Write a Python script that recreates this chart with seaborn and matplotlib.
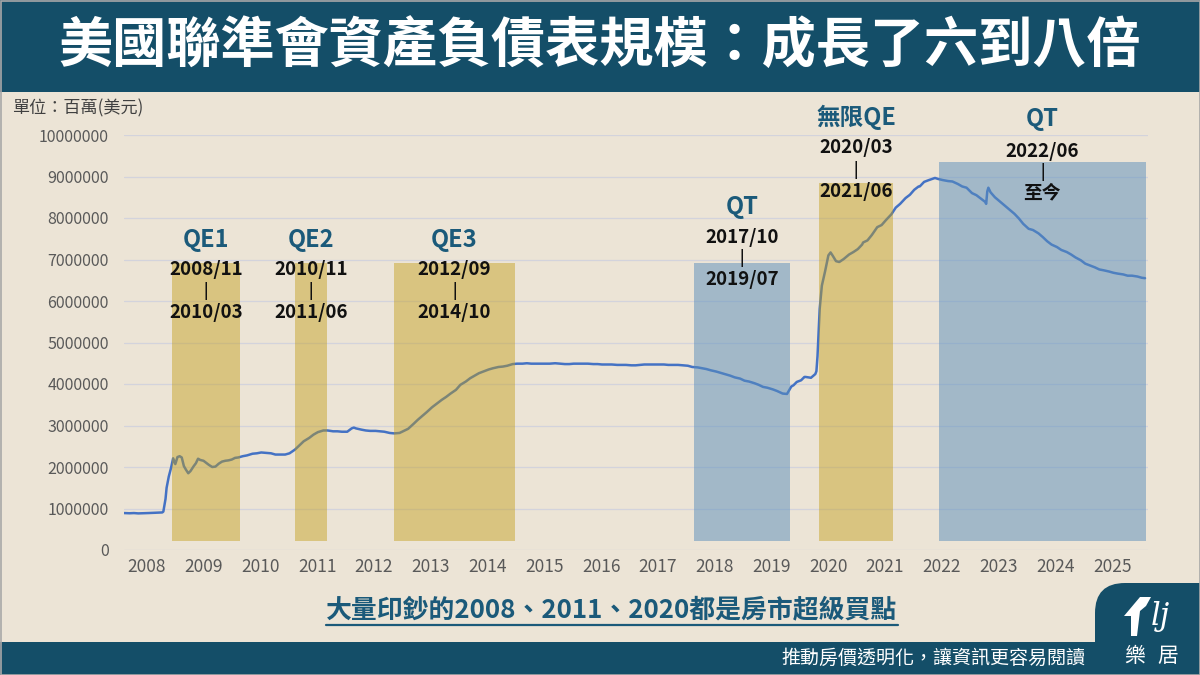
import numpy as np
import pandas as pd
import matplotlib
matplotlib.use("Agg")
import matplotlib.pyplot as plt
import seaborn as sns
from matplotlib.patches import Rectangle, FancyBboxPatch, Polygon

# ---------------- data ----------------
# Fed total assets, billions USD (converted to millions for the axis)
dates = [
    "2008-01-02", "2008-02-06", "2008-03-05", "2008-04-02", "2008-05-07", "2008-06-04", "2008-07-02",
    "2008-08-06", "2008-09-03", "2008-09-10", "2008-09-17", "2008-09-24", "2008-10-01", "2008-10-15",
    "2008-10-29", "2008-11-12", "2008-11-26", "2008-12-10", "2008-12-24",
    "2009-01-07", "2009-01-21", "2009-02-04", "2009-02-18", "2009-03-04", "2009-03-25", "2009-04-08",
    "2009-04-22", "2009-05-06", "2009-05-27", "2009-06-17", "2009-07-01", "2009-07-22", "2009-08-12",
    "2009-09-02", "2009-09-23", "2009-10-14", "2009-11-04", "2009-11-25", "2009-12-16",
    "2010-01-06", "2010-02-03", "2010-03-03", "2010-04-07", "2010-05-05", "2010-06-02", "2010-07-07",
    "2010-08-04", "2010-09-01", "2010-10-06", "2010-11-03", "2010-12-01",
    "2011-01-05", "2011-02-02", "2011-03-02", "2011-04-06", "2011-05-04", "2011-06-01", "2011-07-06",
    "2011-08-03", "2011-09-07", "2011-10-05", "2011-11-02", "2011-12-07",
    "2012-01-04", "2012-01-18", "2012-02-01", "2012-03-07", "2012-04-04", "2012-05-02", "2012-06-06",
    "2012-07-04", "2012-08-01", "2012-09-05", "2012-10-03", "2012-11-07", "2012-12-05",
    "2013-01-02", "2013-02-06", "2013-03-06", "2013-04-03", "2013-05-01", "2013-06-05", "2013-07-03",
    "2013-08-07", "2013-09-04", "2013-10-02", "2013-11-06", "2013-12-04",
    "2014-01-08", "2014-02-05", "2014-03-05", "2014-04-02", "2014-05-07", "2014-06-04", "2014-07-02",
    "2014-08-06", "2014-09-03", "2014-10-01", "2014-11-05", "2014-12-03",
    "2015-01-07", "2015-02-04", "2015-03-04", "2015-04-01", "2015-05-06", "2015-06-03", "2015-07-01",
    "2015-08-05", "2015-09-02", "2015-10-07", "2015-11-04", "2015-12-02",
    "2016-01-06", "2016-02-03", "2016-03-02", "2016-04-06", "2016-05-04", "2016-06-01", "2016-07-06",
    "2016-08-03", "2016-09-07", "2016-10-05", "2016-11-02", "2016-12-07",
    "2017-01-04", "2017-02-01", "2017-03-01", "2017-04-05", "2017-05-03", "2017-06-07", "2017-07-05",
    "2017-08-02", "2017-09-06", "2017-10-04", "2017-11-01", "2017-12-06",
    "2018-01-03", "2018-02-07", "2018-03-07", "2018-04-04", "2018-05-02", "2018-06-06", "2018-07-04",
    "2018-08-01", "2018-09-05", "2018-10-03", "2018-11-07", "2018-12-05",
    "2019-01-02", "2019-02-06", "2019-03-06", "2019-04-03", "2019-05-01", "2019-06-05", "2019-07-03",
    "2019-08-07", "2019-09-04", "2019-09-18", "2019-10-02", "2019-10-16", "2019-11-06", "2019-12-04",
    "2019-12-25",
    "2020-01-01", "2020-02-05", "2020-03-04", "2020-03-11", "2020-03-18", "2020-03-25", "2020-04-01",
    "2020-04-15", "2020-05-06", "2020-05-27", "2020-06-10", "2020-06-24", "2020-07-15", "2020-08-05",
    "2020-09-02", "2020-10-07", "2020-11-04", "2020-12-02", "2020-12-30",
    "2021-01-06", "2021-02-03", "2021-03-03", "2021-04-07", "2021-05-05", "2021-06-02", "2021-07-07",
    "2021-08-04", "2021-09-01", "2021-10-06", "2021-11-03", "2021-12-01", "2021-12-29",
    "2022-01-05", "2022-02-02", "2022-03-02", "2022-04-13", "2022-05-04", "2022-06-01", "2022-07-06",
    "2022-08-03", "2022-09-07", "2022-10-05", "2022-11-02", "2022-12-07",
    "2023-01-04", "2023-02-01", "2023-03-01", "2023-03-08", "2023-03-15", "2023-03-22", "2023-04-05",
    "2023-05-03", "2023-06-07", "2023-07-05", "2023-08-02", "2023-09-06", "2023-10-04", "2023-11-01",
    "2023-12-06",
    "2024-01-03", "2024-02-07", "2024-03-06", "2024-04-03", "2024-05-01", "2024-06-05", "2024-07-03",
    "2024-08-07", "2024-09-04", "2024-10-02", "2024-11-06", "2024-12-04",
    "2025-01-08", "2025-02-05", "2025-03-05", "2025-04-02", "2025-05-07", "2025-06-04", "2025-07-02",
    "2025-08-06", "2025-09-03", "2025-10-01", "2025-11-05", "2025-12-03", "2025-12-24",
]
balance_bn = [
    890, 885, 890, 882, 885, 890, 895,
    900, 905, 925, 1070, 1230, 1500, 1770,
    1970, 2210, 2070, 2240, 2260,
    2230, 2020, 1930, 1850, 1900, 2020, 2090,
    2200, 2170, 2150, 2090, 2050, 2000, 2010,
    2080, 2130, 2150, 2160, 2180, 2220,
    2230, 2260, 2280, 2320, 2330, 2350, 2340,
    2330, 2300, 2300, 2300, 2330,
    2420, 2520, 2620, 2700, 2780, 2840, 2880,
    2880, 2860, 2860, 2850, 2850,
    2930, 2950, 2930, 2900, 2880, 2870, 2870,
    2860, 2850, 2820, 2810, 2820, 2870,
    2920, 3040, 3140, 3230, 3320, 3440, 3520,
    3620, 3690, 3770, 3860, 3980,
    4060, 4140, 4200, 4260, 4310, 4350, 4380,
    4410, 4420, 4440, 4480, 4490,
    4490, 4500, 4490, 4490, 4490, 4490, 4490,
    4500, 4490, 4480, 4480, 4490,
    4490, 4490, 4490, 4480, 4480, 4470, 4470,
    4470, 4460, 4460, 4460, 4450,
    4450, 4460, 4470, 4470, 4470, 4470, 4470,
    4460, 4460, 4460, 4450, 4440,
    4410, 4400, 4380, 4360, 4330, 4300, 4270,
    4240, 4200, 4160, 4130, 4080,
    4060, 4020, 3980, 3930, 3910, 3870, 3830,
    3770, 3760, 3850, 3940, 3970, 4050, 4090,
    4170,
    4170, 4150, 4240, 4310, 4670, 5250, 5810,
    6370, 6720, 7100, 7170, 7090, 6960, 6940,
    7010, 7120, 7180, 7250, 7360,
    7410, 7460, 7590, 7780, 7830, 7950, 8090,
    8250, 8340, 8480, 8560, 8680, 8760,
    8760, 8870, 8910, 8965, 8940, 8915, 8890,
    8880, 8820, 8760, 8730, 8600,
    8550, 8470, 8390, 8340, 8640, 8730, 8620,
    8500, 8390, 8300, 8210, 8100, 7990, 7860,
    7740,
    7710, 7630, 7540, 7440, 7360, 7300, 7230,
    7180, 7120, 7050, 6980, 6900,
    6850, 6810, 6760, 6740, 6710, 6680, 6660,
    6640, 6610, 6610, 6590, 6560, 6550,
]

# policy periods
period_names = ["QE1", "QE2", "QE3", "QT", "無限QE", "QT"]
period_kind = ["qe", "qe", "qe", "qt", "qe", "qt"]
period_from = ["2008/11", "2010/11", "2012/09", "2017/10", "2020/03", "2022/06"]
period_to = ["2010/03", "2011/06", "2014/10", "2019/07", "2021/06", "至今"]
period_start = [2008.845, 2011.01, 2012.75, 2018.04, 2020.24, 2022.35]
period_end = [2010.04, 2011.57, 2014.88, 2019.73, 2021.54, 2025.99]
period_top = [6920000, 6920000, 6920000, 6920000, 8840000, 9350000]
period_bottom = 220000

years = list(range(2008, 2026))
yticks = list(range(0, 10000001, 1000000))

# label layout (value units)
lab_title_y = [7470000, 7470000, 7470000, 8270000, 10430000, 10390000]
lab_from_y = [6750000, 6750000, 6750000, 7520000, 9690000, 9610000]
lab_bar_y = [6240000, 6240000, 6240000, 7040000, 9160000, 9110000]
lab_to_y = [5730000, 5730000, 5730000, 6510000, 8650000, 8600000]

# ---------------- style ----------------
sns.set_theme(style="white")
plt.rcParams["font.family"] = ["Noto Sans CJK TC", "DejaVu Sans"]

BG = "#ece4d6"
DARK = "#144e68"
TEAL = "#1b5a7a"
LINE = "#4472c4"
GOLD = (194 / 255, 157 / 255, 25 / 255)
BLUE = (90 / 255, 142 / 255, 188 / 255)

W, H = 1200, 675
fig = plt.figure(figsize=(12, 6.75), dpi=100)
fig.patch.set_facecolor(BG)

# background/decoration axes in pixel coordinates
bg = fig.add_axes([0, 0, 1, 1], zorder=0)
bg.set_xlim(0, W)
bg.set_ylim(H, 0)
bg.axis("off")
bg.add_patch(Rectangle((0, 0), W, 92, color=DARK, lw=0))
bg.add_patch(Rectangle((0, 642), W, 40, color=DARK, lw=0))
bg.add_patch(FancyBboxPatch((1095, 583), 160, 120, boxstyle="round,pad=0,rounding_size=30",
                            color=DARK, lw=0))
bg.add_patch(Rectangle((0.5, 0.5), W - 1, H - 1, fill=False, ec="#a8a8a8", lw=1.2))

bg.text(600, 47, "美國聯準會資產負債表規模：成長了六到八倍", color="white",
        fontsize=39, fontweight="bold", ha="center", va="center")
bg.text(12, 108, "單位：百萬(美元)", color="#404040", fontsize=12.3, ha="left", va="center")
sub = bg.text(612, 610, "大量印鈔的2008、2011、2020都是房市超級買點", color=TEAL,
              fontsize=18.6, fontweight="bold", ha="center", va="center")
bg.text(1085, 658, "推動房價透明化，讓資訊更容易閱讀", color="white", fontsize=13.7,
        ha="right", va="center")
bg.text(1135, 656, "樂", color="white", fontsize=15, ha="center", va="center")
bg.text(1168, 656, "居", color="white", fontsize=15, ha="center", va="center")
# logo mark
bg.add_patch(Polygon([(1124, 616), (1140, 597), (1151, 597), (1146, 606), (1140, 611),
                      (1137, 636), (1131, 636), (1131, 616)], closed=True, color="white", lw=0))
bg.text(1160, 616, "lj", color="white", fontsize=22, fontstyle="italic",
        family="DejaVu Serif", ha="center", va="center")

# main chart axes
ax = fig.add_axes([124 / W, 125 / H, 1024 / W, 415 / H], zorder=1)
ax.set_facecolor("none")

d = pd.to_datetime(pd.Series(dates))
t = d.dt.year + (d.dt.dayofyear - 1) / 365.25
df = pd.DataFrame({"t": t, "v": np.array(balance_bn) * 1000})
sns.lineplot(data=df, x="t", y="v", ax=ax, color=LINE, lw=1.8, zorder=2)

for i in range(len(period_names)):
    col, a = (GOLD, 0.45) if period_kind[i] == "qe" else (BLUE, 0.5)
    ax.add_patch(Rectangle((period_start[i], period_bottom),
                           period_end[i] - period_start[i], period_top[i] - period_bottom,
                           color=col, alpha=a, lw=0, zorder=3))
    cx = (period_start[i] + period_end[i]) / 2
    ax.text(cx, lab_title_y[i], period_names[i], color=TEAL, fontsize=17, fontweight="bold",
            ha="center", va="center", clip_on=False, zorder=5)
    ax.text(cx, lab_from_y[i], period_from[i], color="#111111", fontsize=13.5, fontweight="bold",
            ha="center", va="center", clip_on=False, zorder=5)
    ax.text(cx, lab_bar_y[i], "|", color="#111111", fontsize=11, fontweight="bold",
            ha="center", va="center", clip_on=False, zorder=5)
    ax.text(cx, lab_to_y[i], period_to[i], color="#111111", fontsize=13.5, fontweight="bold",
            ha="center", va="center", clip_on=False, zorder=5)

ax.set_xlim(2008.0, 2026.03)
ax.set_ylim(0, 10000000)
ax.set_yticks(yticks)
ax.set_yticklabels([str(v) for v in yticks])
ax.set_xticks([y + 0.4 for y in years])
ax.set_xticklabels([str(y) for y in years])
ax.tick_params(axis="y", length=0, pad=11, labelsize=11.5, labelcolor="#595959")
ax.tick_params(axis="x", length=0, pad=6, labelsize=12.5, labelcolor="#595959")
ax.grid(axis="y", color="#d3d3dc", lw=0.9, zorder=0)
ax.grid(axis="x", visible=False)
for s in ax.spines.values():
    s.set_visible(False)
ax.set_xlabel("")
ax.set_ylabel("")

# underline for subtitle
fig.canvas.draw()
bb = sub.get_window_extent(fig.canvas.get_renderer())
uy = H - bb.y0 + 1
bg.plot([bb.x0, bb.x1], [uy, uy], color=TEAL, lw=1.6)

fig.savefig("out.png", dpi=100, facecolor=BG)
